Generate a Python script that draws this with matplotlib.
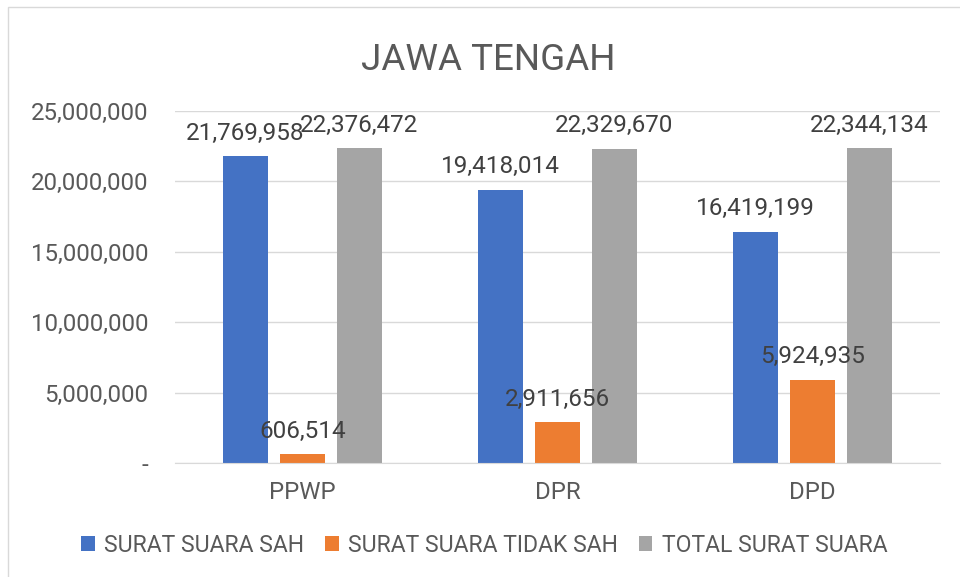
import numpy as np
import matplotlib.pyplot as plt
from matplotlib.patches import Rectangle

categories = ['PPWP', 'DPR', 'DPD']
series_names = ['SURAT SUARA SAH', 'SURAT SUARA TIDAK SAH', 'TOTAL SURAT SUARA']
sah = [21769958, 19418014, 16419199]
tidak_sah = [606514, 2911656, 5924935]
total = [22376472, 22329670, 22344134]
colors = ['#4472c4', '#ed7d31', '#a5a5a5']
yticks = [0, 5000000, 10000000, 15000000, 20000000, 25000000]

plt.rcParams['font.family'] = ['Roboto', 'DejaVu Sans']
txt = '#595959'

fig = plt.figure(figsize=(9.6, 5.77), dpi=100)
fig.patches.append(Rectangle((8/960, -0.1), 1.2, 1 - 7/577 + 0.1, transform=fig.transFigure,
                             fill=False, edgecolor='#d9d9d9', linewidth=1))
ax = fig.add_axes([175/960, 1 - 463/577, 765/960, 352/577])

x = np.arange(len(categories))
width = 0.176
step = 0.2235
for i, (vals, name) in enumerate(zip([sah, tidak_sah, total], series_names)):
    pos = x + (i - 1) * step
    bars = ax.bar(pos, vals, width, color=colors[i], label=name, zorder=2)
    for b, v in zip(bars, vals):
        ax.annotate(f'{v:,}', (b.get_x() + b.get_width() / 2, v), xytext=(0, 16.5),
                    textcoords='offset points', ha='center', va='center',
                    fontsize=17.5, color='#404040')

ax.set_xlim(-0.5, 2.5)
ax.set_ylim(0, 25000000)
ax.set_yticks(yticks)
ax.set_yticklabels(['-'] + [f'{v:,}' for v in yticks[1:]])
ax.set_xticks(x)
ax.set_xticklabels(categories)
ax.tick_params(axis='both', length=0, labelsize=17.3, colors=txt)
ax.tick_params(axis='y', pad=19)
ax.tick_params(axis='x', pad=13)
ax.grid(axis='y', color='#d9d9d9', linewidth=1, zorder=0)
for s in ['top', 'right', 'left']:
    ax.spines[s].set_visible(False)
ax.spines['bottom'].set_color('#d9d9d9')

fig.text(488/960, 1 - 60/577, 'JAWA TENGAH', ha='center', va='center', fontsize=26.5, color=txt)

leg = fig.legend(loc='center', bbox_to_anchor=(484/960, 1 - 545/577), ncol=3, frameon=False,
                 fontsize=16.6, handlelength=0.6, handleheight=0.6, handletextpad=0.4,
                 columnspacing=0.9)
for t in leg.get_texts():
    t.set_color(txt)

fig.savefig('out.png', dpi=100, facecolor='white')
